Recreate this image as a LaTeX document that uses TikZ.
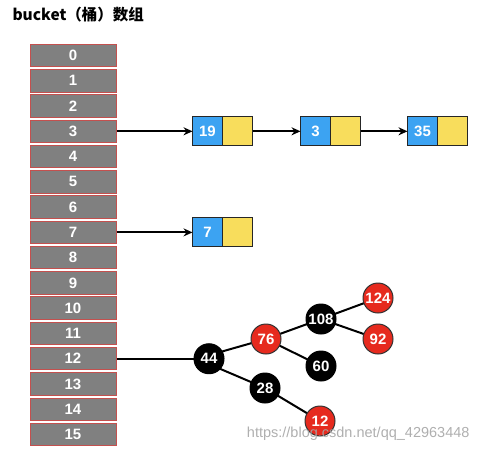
\documentclass[tikz,border=0pt]{standalone}
\usepackage{fontspec}
\setmainfont{Liberation Sans}
\newfontfamily\cjk{Noto Sans CJK SC}
\usetikzlibrary{positioning}
\usetikzlibrary{arrows.meta}
\definecolor{cellgray}{HTML}{808080}
\definecolor{cellred}{HTML}{C4504E}
\definecolor{keyblue}{HTML}{3CA3F2}
\definecolor{nextyellow}{HTML}{F8DD5C}
\definecolor{rbred}{HTML}{E62A1E}
\tikzset{
	every node/.style = {font=\fontsize{15}{17}\selectfont\bfseries, text=white},
	cell/.style = {draw=cellred, fill=cellgray, line width=1pt, minimum width=86pt, minimum height=22.5pt, inner sep=0pt},
	keybox/.style = {draw=black!85, fill=keyblue, line width=1pt, minimum width=30pt, minimum height=29pt, inner sep=0pt, outer sep=0pt},
	nextbox/.style = {keybox, fill=nextyellow},
	blacknode/.style = {circle, draw=black, fill=black, line width=1pt, minimum size=30pt, inner sep=0pt},
	rednode/.style = {blacknode, draw=black!80, fill=rbred},
	link/.style = {-{Stealth[length=9pt,width=8pt]}, line width=2pt},
	branch/.style = {line width=2pt}
}

\begin{document}
\begin{tikzpicture}[x=1pt, y=-1pt]
		\useasboundingbox (0,0) rectangle (482,453);
		\node[anchor=west, text=black, font=\cjk\fontsize{15.5}{17}\selectfont\bfseries] (title) at (9,15) {bucket（桶）数组};
		% buckets
		\foreach \i in {0,...,15}
			\node[cell] (c\i) at (73, 55.5+25.27*\i) {\i};
		% list in bucket 3
		\node[keybox, right=76pt of c3] (k19) {19};
		\node[nextbox, right=0pt of k19] (n19) {};
		\node[keybox, right=48pt of n19] (k3) {3};
		\node[nextbox, right=0pt of k3] (n3) {};
		\node[keybox, right=47pt of n3] (k35) {35};
		\node[nextbox, right=0pt of k35] (n35) {};
		\draw[link] (c3) -- (k19);
		\draw[link] (n19) -- (k3);
		\draw[link] (n3) -- (k35);
		% list in bucket 7
		\node[keybox, right=76pt of c7] (k7) {7};
		\node[nextbox, right=0pt of k7] (n7) {};
		\draw[link] (c7) -- (k7);
		% tree in bucket 12
		\draw[branch] (c12.east) -- ++(80,0) coordinate (root);
		\draw[branch] (root) -- (266,339) -- (321,319) -- (378,298);
		\draw[branch] (321,319) -- (378,339);
		\draw[branch] (266,339) -- (321,366);
		\draw[branch] (root) -- (265,388) -- (320,421);
		\node[blacknode, right=77pt of c12] (t44) {44};
		\node[rednode] (t76) at (266,339) {76};
		\node[blacknode] (t28) at (265,388) {28};
		\node[blacknode] (t108) at (321,319) {108};
		\node[blacknode] (t60) at (321,366) {60};
		\node[rednode] (t124) at (378,298) {124};
		\node[rednode] (t92) at (378,339) {92};
		\node[rednode] (t12) at (320,421) {12};
		\node[anchor=east, text=black!35, font=\fontsize{14.5}{16}\selectfont, opacity=0.9] (mark) at (473,434) {https://blog.csdn.net/qq\_42963448};
	\end{tikzpicture}
\end{document}
